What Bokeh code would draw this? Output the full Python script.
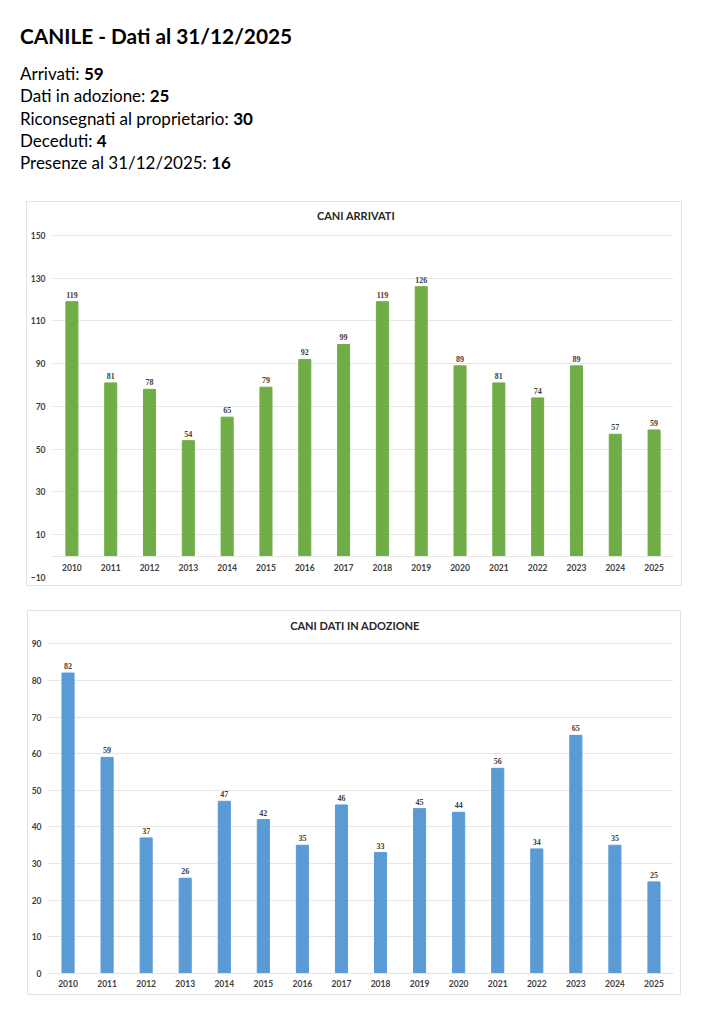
from bokeh.plotting import figure
from bokeh.models import ColumnDataSource, Div, LabelSet, Label, FactorRange, Range1d, FixedTicker
from bokeh.embed import file_html
from bokeh.resources import INLINE

# ---- data ----
years = [str(y) for y in range(2010, 2026)]
arrivati = [119, 81, 78, 54, 65, 79, 92, 99, 119, 126, 89, 81, 74, 89, 57, 59]
adozione = [82, 59, 37, 26, 47, 42, 35, 46, 33, 45, 44, 56, 34, 65, 35, 25]
page_title = "CANILE - Dati al 31/12/2025"
summary_labels = ["Arrivati", "Dati in adozione", "Riconsegnati al proprietario",
                  "Deceduti", "Presenze al 31/12/2025"]
summary_values = [59, 25, 30, 4, 16]
ticks_arrivati = [-10, 10, 30, 50, 70, 90, 110, 130, 150]
ticks_adozione = [0, 10, 20, 30, 40, 50, 60, 70, 80, 90]

FONT = "Lato"
TXT = "#404040"

lines = "<br>".join(f"{l}: <b>{v}</b>" for l, v in zip(summary_labels, summary_values))
header = Div(
    text=(f'<div style="font-family:{FONT};color:#000;padding-left:12px;">'
          f'<div style="font-size:20.8px;font-weight:bold;line-height:24px;margin-top:16px;">{page_title}</div>'
          f'<div style="font-size:17px;line-height:22.3px;margin-top:15px;">{lines}</div></div>'),
    width=693, height=193, margin=(8, 0, 0, 8),
)


def make_chart(title, values, color, y0, y_top_tick, y_end, ticks, width, height, borders,
               fixed_zero, margin, title_dy, title_dx, xlabel_standoff, ylabel_standoff):
    left, right, top, bottom = borders
    src = ColumnDataSource(dict(x=years, y=values, lab=[str(v) for v in values]))
    p = figure(x_range=FactorRange(*years), y_range=Range1d(y0, y_end), width=width, height=height,
               output_backend="svg", toolbar_location=None,
               min_border_left=left, min_border_right=right, min_border_top=top,
               min_border_bottom=bottom, margin=margin,
               styles={"border": "1px solid #e3e3e3"})
    p.vbar(x="x", top="y", bottom=0, width=0.31, color=color, source=src)
    p.add_layout(LabelSet(x="x", y="y", text="lab", source=src, text_align="center",
                          text_baseline="bottom", y_offset=4, text_font=FONT,
                          text_font_size="8px", text_font_style="bold", text_color=TXT))
    # chart title (centred over the plot, above the top gridline)
    p.add_layout(Label(x=len(years) / 2, y=y_top_tick, x_offset=title_dx, y_offset=title_dy,
                       text=title, text_align="center", text_baseline="middle",
                       text_font=FONT, text_font_size="11px", text_font_style="bold",
                       text_color="#262626"))
    p.outline_line_color = None
    p.xgrid.grid_line_color = None
    p.ygrid.grid_line_color = "#e6e6e6"
    p.yaxis.ticker = FixedTicker(ticks=ticks)
    for ax in (p.xaxis, p.yaxis):
        ax.major_tick_line_color = None
        ax.minor_tick_line_color = None
        ax.major_tick_out = 0
        ax.major_tick_in = 0
        ax.minor_tick_out = 0
        ax.minor_tick_in = 0
        ax.major_label_text_font = FONT
        ax.major_label_text_font_size = "8.5px"
        ax.major_label_text_font_style = "bold"
        ax.major_label_text_color = TXT
    p.yaxis.axis_line_color = None
    p.yaxis.major_label_standoff = ylabel_standoff
    p.xaxis.axis_line_color = "#e3e3e3"
    p.xaxis.major_label_standoff = xlabel_standoff
    if fixed_zero:
        p.xaxis.fixed_location = 0
    return p


p1 = make_chart("CANI ARRIVATI", arrivati, "#70AD47", -10, 150, 165.4, ticks_arrivati,
                656, 385, (23, 10, 0, 10), True, (0, 0, 0, 26), 20, -7, 8, 7)
p2 = make_chart("CANI DATI IN ADOZIONE", adozione, "#5B9BD5", 0, 90, 98.8, ticks_adozione,
                654, 385, (20, 9, 0, 23), False, (24, 0, 0, 27), 18, -6, 6, 7)

# separate roots so the two plot frames are not aligned to each other
open("out.html", "w").write(file_html([header, p1, p2], INLINE))
